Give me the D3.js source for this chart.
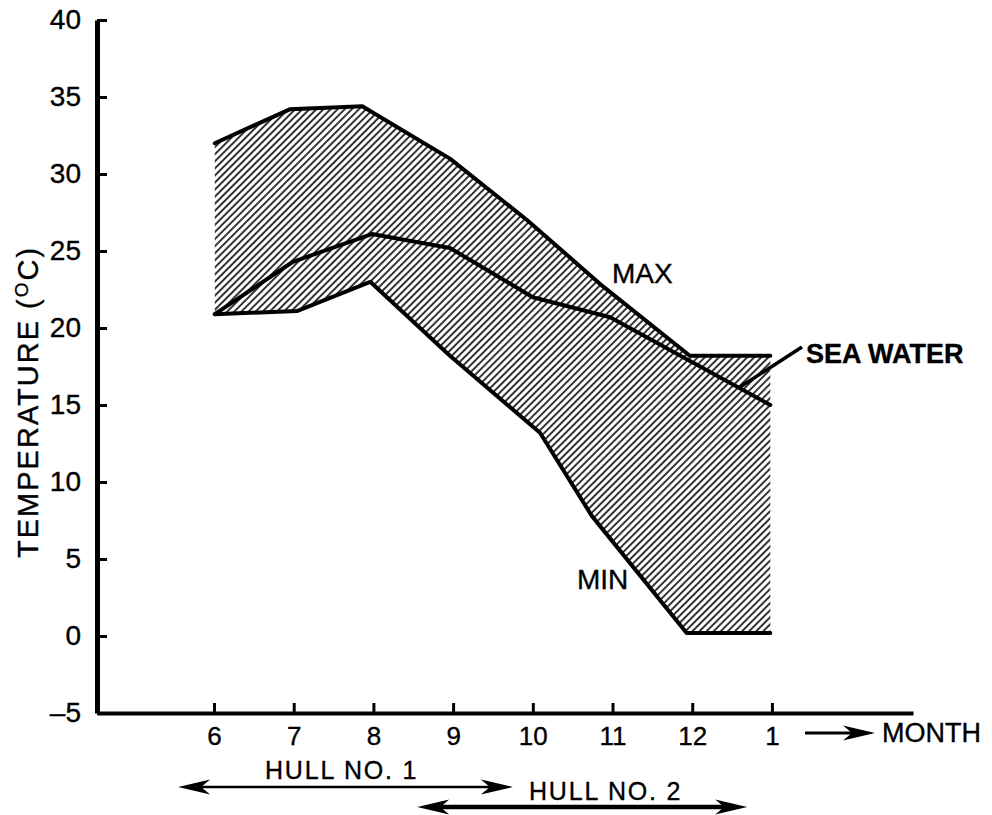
<!DOCTYPE html>
<html>
<head>
<meta charset="utf-8">
<script src="https://cdn.jsdelivr.net/npm/d3@7"></script>
<style>
  html, body { margin: 0; padding: 0; background: #fff; }
  svg { display: block; font-family: "Liberation Sans", Arial, Helvetica, sans-serif; }
  text { stroke: #000; stroke-width: 0.35px; }
</style>
</head>
<body>
<svg id="chart" width="992" height="815"></svg>
<script>
// ---- data ----
const monthTicks = [6, 7, 8, 9, 10, 11, 12, 13];
const monthLabels = ["6", "7", "8", "9", "10", "11", "12", "1"];
const tempTicks = [-5, 0, 5, 10, 15, 20, 25, 30, 35, 40];

const maxMonth = [6.01, 6.95, 7.86, 8.96, 9.93, 10.88, 11.97, 12.98];
const maxTemp  = [32.0, 34.2, 34.4, 31.0, 27.0, 22.7, 18.2, 18.2];

const seaMonth = [6.01, 6.99, 7.98, 8.96, 10.0, 10.97, 12.98];
const seaTemp  = [20.9, 24.3, 26.1, 25.2, 22.0, 20.7, 15.0];

const minMonth = [6.01, 7.04, 7.96, 8.96, 10.09, 10.74, 11.93, 12.98];
const minTemp  = [20.9, 21.1, 23.0, 18.2, 13.2, 7.8, 0.2, 0.2];

const hullNames = ["HULL NO. 1", "HULL NO. 2"];
const hullFrom  = [5.55, 8.55];
const hullTo    = [9.75, 12.69];

// ---- scales ----
const svg = d3.select("#chart");
const x = d3.scaleLinear().domain([4.532, 14.77]).range([97, 913]);
const y = d3.scaleLinear().domain([-5, 40]).range([713, 20]);

const font = 28;

// hatch pattern
const defs = svg.append("defs");
const pat = defs.append("pattern")
  .attr("id", "hatch")
  .attr("patternUnits", "userSpaceOnUse")
  .attr("width", 5).attr("height", 10)
  .attr("patternTransform", "rotate(45)");
pat.append("line")
  .attr("x1", 1).attr("y1", 0).attr("x2", 1).attr("y2", 10)
  .attr("stroke", "#000").attr("stroke-width", 1.6);

const maxPts = maxMonth.map((m, i) => [m, maxTemp[i]]);
const minPts = minMonth.map((m, i) => [m, minTemp[i]]);
const seaPts = seaMonth.map((m, i) => [m, seaTemp[i]]);

const line = d3.line().x(d => x(d[0])).y(d => y(d[1]));

// hatched band
svg.append("path")
  .attr("d", line(maxPts.concat(minPts.slice().reverse())) + "Z")
  .attr("fill", "url(#hatch)")
  .attr("stroke", "none");

// lines
[maxPts, seaPts, minPts].forEach(pts => {
  svg.append("path")
    .attr("d", line(pts))
    .attr("fill", "none")
    .attr("stroke", "#000")
    .attr("stroke-width", 4)
    .attr("stroke-linejoin", "round")
    .attr("stroke-linecap", "round");
});

// ---- axes ----
const yAxis = d3.axisLeft(y)
  .tickValues(tempTicks)
  .tickSizeInner(-10)
  .tickSizeOuter(0)
  .tickPadding(16)
  .tickFormat(d => d < 0 ? "\u2013" + Math.abs(d) : String(d));
const gy = svg.append("g").attr("transform", `translate(${x(4.532)},0)`).call(yAxis);
gy.select(".domain").attr("stroke-width", 5);
gy.selectAll(".tick line").attr("stroke-width", 3);
gy.selectAll(".tick text").attr("font-size", font).attr("font-family", "Liberation Sans, Arial, sans-serif").attr("fill", "#000");

const xAxis = d3.axisBottom(x)
  .tickValues(monthTicks)
  .tickSizeInner(-10)
  .tickSizeOuter(0)
  .tickPadding(14)
  .tickFormat((d, i) => monthLabels[i]);
const gx = svg.append("g").attr("transform", `translate(0,${y(-5)})`).call(xAxis);
gx.select(".domain").attr("stroke-width", 4);
gx.selectAll(".tick line").attr("stroke-width", 3);
gx.selectAll(".tick text").attr("font-size", 26).attr("font-family", "Liberation Sans, Arial, sans-serif").attr("fill", "#000");

// y-axis title
const yt = svg.append("text")
  .attr("transform", `translate(38,${y(15.2)}) rotate(-90)`)
  .attr("text-anchor", "middle")
  .attr("font-size", 29)
  .attr("letter-spacing", 2)
  .attr("fill", "#000");
yt.append("tspan").text("TEMPERATURE (");
yt.append("tspan").attr("font-size", 19).attr("dy", -10).text("O");
yt.append("tspan").attr("dy", 10).text("C)");

// ---- annotations ----
svg.append("text").attr("x", 612).attr("y", 283).attr("font-size", font).text("MAX");
svg.append("text").attr("x", 577).attr("y", 589).attr("font-size", font).text("MIN");
svg.append("text").attr("x", 806).attr("y", 363).attr("font-size", 27).attr("font-weight", "bold").text("SEA WATER");
svg.append("line")
  .attr("x1", 802).attr("y1", 347).attr("x2", 740).attr("y2", 387)
  .attr("stroke", "#000").attr("stroke-width", 3.5);

function arrowHead(g, tx, ty, dir, L, W) {
  // dir: +1 pointing right, -1 pointing left
  const p = [
    [tx, ty],
    [tx - dir * L, ty - W / 2],
    [tx - dir * L * 0.72, ty],
    [tx - dir * L, ty + W / 2]
  ];
  g.append("path").attr("d", "M" + p.map(q => q.join(",")).join("L") + "Z").attr("fill", "#000");
}

// month arrow
const ga = svg.append("g");
ga.append("line").attr("x1", 805).attr("y1", 733).attr("x2", 858).attr("y2", 733)
  .attr("stroke", "#000").attr("stroke-width", 3);
arrowHead(ga, 875, 733, 1, 32, 15);
svg.append("text").attr("x", 882).attr("y", 742).attr("font-size", 27).text("MONTH");

// hull periods
const hullY = [787, 807];
const hullW = [2.5, 4.5];
const hullTextX = [265, 529];
const hullTextY = [779, 800];
hullNames.forEach((name, i) => {
  const g = svg.append("g");
  const x1 = x(hullFrom[i]), x2 = x(hullTo[i]);
  g.append("line").attr("x1", x1 + 15).attr("y1", hullY[i]).attr("x2", x2 - 15).attr("y2", hullY[i])
    .attr("stroke", "#000").attr("stroke-width", hullW[i]);
  arrowHead(g, x1, hullY[i], -1, 32, 15);
  arrowHead(g, x2, hullY[i], 1, 32, 15);
  svg.append("text").attr("x", hullTextX[i]).attr("y", hullTextY[i])
    .attr("font-size", 25).attr("letter-spacing", 1.8).text(name);
});
</script>
</body>
</html>
